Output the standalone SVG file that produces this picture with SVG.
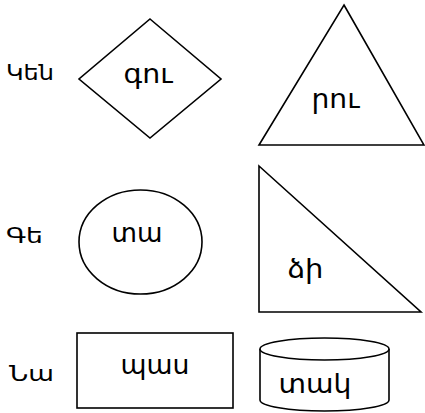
<svg xmlns="http://www.w3.org/2000/svg" width="425" height="413" viewBox="0 0 425 413">
<style>
.s{fill:#fff;stroke:#000;stroke-width:1.6}
.t{font-family:"DejaVu Sans",sans-serif;font-size:27px;text-anchor:middle;fill:#000}
.l{font-family:"DejaVu Sans",sans-serif;font-size:21px;fill:#000}
</style>
<rect width="425" height="413" fill="#fff"/>
<g id="labels">
<text class="l" x="6" y="80" textLength="48" lengthAdjust="spacingAndGlyphs">Կեն</text>
<text class="l" x="6" y="243" textLength="37" lengthAdjust="spacingAndGlyphs">Գե</text>
<text class="l" x="9" y="381" textLength="45" lengthAdjust="spacingAndGlyphs">Նա</text>
</g>
<g id="diamond"><polygon class="s" points="150,19 221,79 150,138 79,79"/><text class="t" x="148" y="83" textLength="49" lengthAdjust="spacingAndGlyphs">գու</text></g>
<g id="triangle"><polygon class="s" points="344,5 424,145 259,145"/><text class="t" x="335.5" y="108" textLength="48" lengthAdjust="spacingAndGlyphs">րու</text></g>
<g id="ellipse"><ellipse class="s" cx="140.5" cy="242" rx="61.5" ry="52"/><text class="t" x="137" y="242" textLength="51" lengthAdjust="spacingAndGlyphs">տա</text></g>
<g id="rtriangle"><polygon class="s" points="259,166 421,312 259,312"/><text class="t" x="305.5" y="278" textLength="36" lengthAdjust="spacingAndGlyphs">ձի</text></g>
<g id="rect"><rect class="s" x="77" y="333" width="156" height="75"/><text class="t" x="155" y="374" textLength="69" lengthAdjust="spacingAndGlyphs">պաս</text></g>
<g id="cylinder"><path class="s" d="M260,349 L260,400 A64.5,11 0 0 0 389,400 L389,349"/><ellipse class="s" cx="324.5" cy="349" rx="64.5" ry="11"/><text class="t" x="315" y="393" textLength="73" lengthAdjust="spacingAndGlyphs">տակ</text></g>
<g id="connectors"/>
</svg>
